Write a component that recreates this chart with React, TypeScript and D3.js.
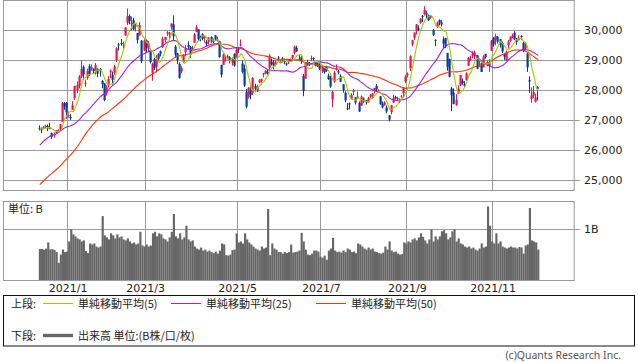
import { useEffect, useRef } from 'react';
import * as d3 from 'd3';

// trading days on the chart, month by month
const tradingDays: [string, number[]][] = [
  ['2020/12', [14, 15, 16, 17, 18, 21, 22, 23, 24, 25, 28, 29, 30]],
  ['2021/1', [4, 5, 6, 7, 8, 12, 13, 14, 15, 18, 19, 20, 21, 22, 25, 26, 27, 28, 29]],
  ['2021/2', [1, 2, 3, 4, 5, 8, 9, 10, 12, 15, 16, 17, 18, 19, 22, 24, 25, 26]],
  ['2021/3', [1, 2, 3, 4, 5, 8, 9, 10, 11, 12, 15, 16, 17, 18, 19, 22, 23, 24, 25, 26, 29, 30, 31]],
  ['2021/4', [1, 2, 5, 6, 7, 8, 9, 12, 13, 14, 15, 16, 19, 20, 21, 22, 23, 26, 27, 28, 30]],
  ['2021/5', [6, 7, 10, 11, 12, 13, 14, 17, 18, 19, 20, 21, 24, 25, 26, 27, 28, 31]],
  ['2021/6', [1, 2, 3, 4, 7, 8, 9, 10, 11, 14, 15, 16, 17, 18, 21, 22, 23, 24, 25, 28, 29, 30]],
  ['2021/7', [1, 2, 5, 6, 7, 8, 9, 12, 13, 14, 15, 16, 19, 20, 21, 26, 27, 28, 29, 30]],
  ['2021/8', [2, 3, 4, 5, 6, 10, 11, 12, 13, 16, 17, 18, 19, 20, 23, 24, 25, 26, 27, 30, 31]],
  ['2021/9', [1, 2, 3, 6, 7, 8, 9, 10, 13, 14, 15, 16, 17, 21, 22, 24, 27, 28, 29, 30]],
  ['2021/10', [1, 4, 5, 6, 7, 8, 11, 12, 13, 14, 15, 18, 19, 20, 21, 22, 25, 26, 27, 28, 29]],
  ['2021/11', [1, 2, 4, 5, 8, 9, 10, 11, 12, 15, 16, 17, 18, 19, 22, 24, 25, 26, 29, 30]],
  ['2021/12', [1, 2, 3]],
];

// closes before the first candle (2020/10/2 - 2020/12/11), only used to warm up the averages
const warmupCloses = [
  23030, 23312, 23434, 23423, 23647, 23620, 23559, 23602, 23627, 23507, 23411, 23671, 23567, 23639,
  23474, 23517, 23494, 23486, 23419, 23332, 22977,
  23295, 23695, 24105, 24325, 24840, 24906, 25350, 25521, 25386, 25907, 26015, 25728, 25634, 25527,
  26166, 26297, 26537, 26645, 26434,
  26788, 26801, 26809, 26751, 26547, 26467, 26818, 26756, 26653,
];

// open, high, low, close
const ohlc: [number, number, number, number][] = [
  // 2020/12
  [26740, 26820, 26650, 26732], [26690, 26750, 26560, 26687], [26730, 26800, 26690, 26757],
  [26790, 26840, 26720, 26806], [26800, 26850, 26630, 26763], [26740, 26910, 26690, 26714],
  [26560, 26580, 26370, 26436], [26500, 26580, 26410, 26524], [26560, 26670, 26540, 26668],
  [26650, 26690, 26620, 26656], [26680, 26860, 26640, 26854], [26940, 27600, 26930, 27568],
  [27560, 27600, 27340, 27444],
  // 2021/1
  [27575, 27602, 27042, 27258], [27151, 27279, 27073, 27158], [27102, 27196, 27002, 27055],
  [27340, 27624, 27340, 27490], [27721, 28139, 27667, 28139], [28004, 28287, 27899, 28164],
  [28140, 28500, 28057, 28456], [28442, 28979, 28402, 28698], [28777, 28820, 28371, 28519],
  [28238, 28349, 28111, 28242], [28405, 28711, 28340, 28633], [28788, 28859, 28473, 28523],
  [28710, 28860, 28650, 28756], [28714, 28717, 28560, 28631], [28633, 28897, 28513, 28822],
  [28711, 28711, 28426, 28546], [28710, 28730, 28446, 28635], [28299, 28337, 28059, 28197],
  [28226, 28226, 27629, 27663],
  // 2021/2
  [27892, 28161, 27812, 28091], [28159, 28462, 28081, 28362], [28608, 28690, 28396, 28646],
  [28508, 28616, 28180, 28341], [28578, 28841, 28498, 28779], [28995, 29420, 28937, 29388],
  [29517, 29568, 29313, 29505], [29566, 29701, 29480, 29562], [29488, 29614, 29380, 29520],
  [29811, 30095, 29809, 30084], [30227, 30714, 30165, 30467], [30469, 30520, 30191, 30292],
  [30201, 30449, 29988, 30236], [30325, 30405, 29989, 30017], [30107, 30200, 29950, 30156],
  [29900, 29900, 29550, 29671], [29820, 30261, 29815, 30168], [29641, 29667, 28898, 28966],
  // 2021/3
  [29321, 29705, 29293, 29663], [29657, 29686, 29231, 29408], [29373, 29627, 29268, 29559],
  [29326, 29364, 28879, 28930], [28564, 28909, 28308, 28864], [29029, 29074, 28665, 28743],
  [28773, 29161, 28598, 29027], [29212, 29223, 28952, 29036], [29293, 29313, 29119, 29211],
  [29435, 29778, 29404, 29717], [29660, 29777, 29582, 29766], [29885, 29963, 29803, 29921],
  [29844, 29946, 29727, 29914], [30091, 30216, 30017, 30216], [30190, 30485, 29652, 29792],
  [29445, 29498, 29083, 29174], [29220, 29236, 28865, 28995], [28871, 28925, 28379, 28405],
  [28621, 28796, 28555, 28729], [28935, 29193, 28896, 29176], [29259, 29491, 29130, 29384],
  [29498, 29623, 29356, 29432], [29433, 29466, 29078, 29178],
  // 2021/4
  [29375, 29477, 29266, 29388], [29573, 29900, 29573, 29854], [29939, 30167, 29939, 30089],
  [30023, 30023, 29640, 29696], [29772, 29809, 29621, 29730], [29859, 29893, 29654, 29708],
  [29761, 29793, 29581, 29768], [29600, 29659, 29454, 29538], [29597, 29755, 29519, 29751],
  [29764, 29786, 29570, 29620], [29641, 29715, 29553, 29642], [29820, 29835, 29673, 29683],
  [29650, 29772, 29615, 29685], [29633, 29641, 29083, 29100], [28833, 28843, 28419, 28508],
  [28837, 29216, 28827, 29188], [28982, 29146, 28948, 29020], [29084, 29180, 29053, 29126],
  [29098, 29128, 28888, 28991], [28909, 29093, 28813, 29053], [29204, 29223, 28775, 28812],
  // 2021/5
  [29150, 29426, 29073, 29331], [29375, 29412, 29227, 29357], [29517, 29685, 29450, 29518],
  [28883, 28987, 28551, 28608], [28711, 28846, 28103, 28147], [27938, 28037, 27385, 27448],
  [27760, 28089, 27719, 28084], [27967, 28129, 27690, 27824], [27893, 28428, 27838, 28406],
  [28129, 28207, 27930, 28044], [27949, 28179, 27938, 28098], [28254, 28364, 28224, 28317],
  [28297, 28380, 28178, 28364], [28518, 28572, 28421, 28553], [28542, 28665, 28522, 28642],
  [28612, 28698, 28511, 28549], [28735, 29194, 28683, 29149], [28949, 29049, 28815, 28860],
  // 2021/6
  [28887, 28997, 28689, 28814], [28850, 28991, 28786, 28946], [29080, 29130, 28939, 29058],
  [28894, 29014, 28891, 28941], [29058, 29092, 28917, 29019], [28965, 29049, 28860, 28963],
  [28884, 28921, 28804, 28860], [28948, 29024, 28866, 28958], [29016, 29048, 28936, 28948],
  [29065, 29166, 29020, 29161], [29237, 29480, 29182, 29441], [29408, 29474, 29271, 29291],
  [29038, 29165, 28955, 29018], [29091, 29138, 28870, 28964], [28468, 28537, 27795, 27964],
  [28379, 28918, 28379, 28884], [28920, 29008, 28802, 28874], [28890, 28934, 28801, 28875],
  [29040, 29147, 28963, 29066], [29071, 29087, 28970, 29048], [28927, 28927, 28787, 28812],
  [28934, 28937, 28769, 28791],
  // 2021/7
  [28826, 28900, 28665, 28707], [28627, 28821, 28568, 28783], [28793, 28793, 28540, 28598],
  [28752, 28810, 28607, 28643], [28478, 28548, 28336, 28366], [28416, 28477, 28073, 28118],
  [27682, 27968, 27419, 27940], [28274, 28629, 28241, 28569], [28709, 28852, 28650, 28718],
  [28620, 28669, 28525, 28608], [28457, 28525, 28267, 28279], [28190, 28190, 27912, 28003],
  [27908, 27959, 27589, 27652], [27391, 27574, 27330, 27388], [27551, 27584, 27353, 27548],
  [27692, 27892, 27687, 27833], [27956, 28041, 27828, 27970], [27756, 27756, 27519, 27581],
  [27757, 27950, 27713, 27782], [27570, 27620, 27272, 27283],
  // 2021/8
  [27477, 27817, 27477, 27781], [27720, 27752, 27571, 27641], [27664, 27664, 27512, 27584],
  [27598, 27771, 27569, 27728], [27790, 27870, 27722, 27820], [27790, 27890, 27721, 27888],
  [27963, 28070, 27885, 28070], [28138, 28197, 27950, 28015], [27960, 28025, 27943, 27977],
  [27793, 27793, 27504, 27523], [27531, 27619, 27386, 27424], [27488, 27623, 27484, 27585],
  [27417, 27486, 27225, 27281], [27155, 27161, 26954, 27013], [27259, 27506, 27191, 27494],
  [27580, 27838, 27573, 27732], [27765, 27808, 27689, 27724], [27719, 27776, 27631, 27742],
  [27628, 27724, 27564, 27641], [27766, 27841, 27752, 27789], [27889, 28099, 27780, 28089],
  // 2021/9
  [28276, 28504, 28228, 28451], [28495, 28588, 28425, 28543], [28729, 29157, 28633, 29128],
  [29520, 29676, 29454, 29660], [29743, 29916, 29669, 29916], [29955, 30201, 29850, 30181],
  [30050, 30154, 29959, 30008], [30242, 30398, 30209, 30381], [30473, 30499, 30268, 30447],
  [30524, 30795, 30482, 30670], [30558, 30643, 30396, 30511], [30479, 30519, 30300, 30323],
  [30413, 30500, 30370, 30500], [29983, 30034, 29797, 29839], [29674, 29689, 29458, 29639],
  [30099, 30278, 30065, 30248], [30336, 30352, 30153, 30240], [30252, 30324, 30115, 30183],
  [29686, 29786, 29402, 29544], [29733, 29740, 29396, 29452],
  // 2021/10
  [29235, 29235, 28646, 28771], [29029, 29045, 28425, 28444], [28052, 28105, 27293, 27822],
  [27917, 28055, 27528, 27528], [27496, 27860, 27474, 27678], [27876, 28160, 27867, 28048],
  [28150, 28498, 28136, 28498], [28307, 28382, 28174, 28230], [28190, 28297, 28101, 28140],
  [28330, 28589, 28310, 28550], [28806, 29096, 28804, 29068], [29014, 29144, 28976, 29025],
  [29145, 29292, 29060, 29215], [29116, 29310, 29023, 29255], [29154, 29169, 28697, 28708],
  [28789, 29004, 28781, 28804], [28889, 28941, 28600, 28600], [28753, 29160, 28753, 29106],
  [29205, 29205, 29045, 29098], [28925, 28961, 28794, 28820], [28805, 29023, 28603, 28892],
  // 2021/11
  [29299, 29666, 29299, 29647], [29740, 29762, 29446, 29520], [29680, 29880, 29488, 29794],
  [29775, 29796, 29550, 29611], [29690, 29706, 29415, 29507], [29564, 29616, 29236, 29285],
  [29212, 29229, 29006, 29106], [28965, 29311, 28962, 29277], [29492, 29673, 29389, 29610],
  [29638, 29790, 29603, 29776], [29751, 29877, 29718, 29808], [29909, 29960, 29663, 29688],
  [29661, 29733, 29508, 29598], [29664, 29826, 29648, 29745], [29798, 29825, 29676, 29774],
  [29571, 29611, 29258, 29303], [29382, 29588, 29330, 29499], [29222, 29224, 28605, 28751],
  [28330, 28456, 27899, 28283], [27700, 28089, 27577, 27821],
  // 2021/12
  [27813, 28135, 27730, 27935], [27600, 27874, 27585, 27753], [28100, 28130, 27650, 28029],
];

// volume, billions of shares
const volumeB = [
  // 2020/12
  0.61, 0.61, 0.60, 0.62, 0.74, 0.60, 0.61, 0.59, 0.55, 0.34, 0.50, 0.60, 0.55,
  // 2021/1
  0.56, 0.76, 1.00, 0.90, 0.86, 0.82, 0.80, 0.76, 0.78, 0.57, 0.53, 0.72, 0.70, 0.72, 0.66, 0.64,
  0.66, 1.26, 0.88,
  // 2021/2
  0.84, 0.80, 0.92, 0.88, 0.82, 0.90, 0.84, 0.86, 0.80, 0.78, 0.82, 0.76, 0.72, 0.74, 0.70, 0.72,
  0.95, 0.68,
  // 2021/3
  0.66, 0.70, 0.66, 0.68, 0.92, 0.95, 0.86, 0.92, 0.90, 0.82, 0.80, 0.76, 0.84, 0.95, 1.30, 0.86,
  0.82, 0.92, 0.80, 0.84, 1.07, 0.80, 0.76,
  // 2021/4
  0.78, 0.66, 0.62, 0.60, 0.64, 0.58, 0.60, 0.56, 0.58, 0.55, 0.53, 0.56, 0.52, 0.58, 0.72, 0.70,
  0.49, 0.48, 0.50, 0.59, 0.60,
  // 2021/5
  0.92, 0.74, 0.76, 0.72, 0.92, 0.80, 0.74, 0.70, 0.66, 0.62, 0.60, 0.58, 0.66, 0.62, 0.64, 1.40,
  0.49, 0.72,
  // 2021/6
  0.62, 0.60, 0.55, 0.55, 0.52, 0.55, 0.53, 0.55, 0.70, 0.54, 0.55, 0.56, 0.58, 0.93, 0.76, 0.60,
  0.50, 0.49, 0.52, 0.58, 0.58, 0.56,
  // 2021/7
  0.46, 0.44, 0.48, 0.40, 0.58, 0.62, 0.83, 0.58, 0.55, 0.56, 0.54, 0.58, 0.55, 0.62, 0.60, 0.55,
  0.56, 0.53, 0.72, 0.70,
  // 2021/8
  0.66, 0.62, 0.60, 0.64, 0.60, 0.62, 0.56, 0.55, 0.53, 0.52, 0.54, 0.66, 0.60, 0.76, 0.58, 0.55,
  0.56, 0.52, 0.50, 0.51, 0.74,
  // 2021/9
  0.72, 0.76, 0.74, 0.80, 0.82, 0.78, 0.84, 0.92, 0.85, 0.78, 0.72, 0.80, 1.00, 0.76, 0.86, 0.80,
  0.86, 0.96, 0.98, 0.92,
  // 2021/10
  0.80, 0.84, 0.96, 1.00, 0.76, 0.82, 0.72, 0.70, 0.66, 0.64, 0.66, 0.62, 0.64, 0.60, 0.58, 0.62,
  0.72, 0.64, 0.66, 1.45, 1.07,
  // 2021/11
  0.76, 0.72, 0.92, 0.72, 0.76, 0.66, 0.64, 0.62, 0.64, 0.66, 0.64, 0.64, 0.62, 0.65, 0.64, 0.52,
  0.68, 0.70, 1.42, 0.78,
  // 2021/12
  0.76, 0.74, 0.60,
];

const priceTicks = [25000, 26000, 27000, 28000, 29000, 30000];
const volumeTicks = [1];
const monthLabels = ['2021/1', '2021/3', '2021/5', '2021/7', '2021/9', '2021/11'];
const maPeriods = [5, 25, 50];
const maColors = ['#99cc00', '#9922ee', '#ff3300'];
const maNames = ['単純移動平均(5)', '単純移動平均(25)', '単純移動平均(50)'];

const UP = '#f0124a';
const DOWN = '#0a3a9c';
const GRID = '#9a9a9a';
const NUM_FONT = '"DejaVu Sans", sans-serif';
const JP_FONT = '"Noto Sans CJK JP", sans-serif';

export default function App() {
  const ref = useRef<SVGSVGElement>(null);

  useEffect(() => {
    if (!ref.current) return;
    const svg = d3.select(ref.current);
    svg.selectAll('*').remove();

    const dates = tradingDays.flatMap(([m, days]) => days.map((d) => `${m}/${d}`));
    const n = ohlc.length;

    const left = 3, right = 574.7;
    const x = d3.scaleLinear().domain([-17.6, n + 16.4]).range([left, right]);
    const y = d3.scaleLinear().domain([24666.7, 31000]).range([190, 0]);
    const yv = d3.scaleLinear().domain([0, 1.557]).range([280, 201]);
    const step = x(1) - x(0);

    svg.append('rect').attr('width', 638).attr('height', 362).attr('fill', '#fff');

    const monthIdx = monthLabels.map((l) => dates.findIndex((d) => d.startsWith(l + '/')));

    // grids
    const grid = svg.append('g').attr('stroke', GRID).attr('stroke-width', 1).attr('fill', 'none');
    monthIdx.forEach((i) => {
      const gx = Math.round(x(i)) + 0.5;
      grid.append('line').attr('x1', gx).attr('x2', gx).attr('y1', 0).attr('y2', 190);
      grid.append('line').attr('x1', gx).attr('x2', gx).attr('y1', 201).attr('y2', 280);
    });
    priceTicks.forEach((v) => {
      const gy = Math.round(y(v)) + 0.5;
      grid.append('line').attr('x1', left).attr('x2', right + 5).attr('y1', gy).attr('y2', gy);
    });
    volumeTicks.forEach((v) => {
      const gy = Math.round(yv(v)) + 0.5;
      grid.append('line').attr('x1', left).attr('x2', right + 5).attr('y1', gy).attr('y2', gy);
    });
    grid.append('rect').attr('x', left + 0.5).attr('y', 0.5).attr('width', right - left - 1).attr('height', 190);
    grid.append('rect').attr('x', left + 0.5).attr('y', 201.5).attr('width', right - left - 1).attr('height', 79);

    // volume
    svg.append('g')
      .selectAll('rect')
      .data(volumeB)
      .join('rect')
      .attr('x', (_, i) => x(i) - step / 2)
      .attr('width', step + 0.05)
      .attr('y', (d) => yv(d))
      .attr('height', (d) => 280 - yv(d))
      .attr('fill', '#666');

    // candles
    const cg = svg.append('g');
    ohlc.forEach(([o, h, l, c], i) => {
      const color = c >= o ? UP : DOWN;
      const bx = Math.round(x(i) - 1);
      cg.append('rect').attr('x', bx).attr('width', 1)
        .attr('y', y(h)).attr('height', Math.max(1, y(l) - y(h))).attr('fill', color);
      const top = y(Math.max(o, c));
      cg.append('rect').attr('x', bx - 0.5).attr('width', 2.2)
        .attr('y', top).attr('height', Math.max(1, y(Math.min(o, c)) - top)).attr('fill', color);
    });

    // moving averages
    const closes = [...warmupCloses, ...ohlc.map((d) => d[3])];
    const off = warmupCloses.length;
    const line = d3.line<number>().x((_, i) => x(i)).y((v) => y(v));
    [2, 1, 0].forEach((k) => {
      const p = maPeriods[k];
      const ma = ohlc.map((_, i) => d3.mean(closes.slice(off + i - p + 1, off + i + 1)) as number);
      svg.append('path').datum(ma).attr('d', line).attr('fill', 'none')
        .attr('stroke', maColors[k]).attr('stroke-width', 1.1);
    });

    // axis labels
    const txt = svg.append('g').attr('font-family', NUM_FONT).attr('font-size', 11).attr('fill', '#222');
    priceTicks.forEach((v) => {
      txt.append('text').attr('x', 584).attr('y', y(v) + 4).text(d3.format(',')(v));
    });
    volumeTicks.forEach((v) => {
      txt.append('text').attr('x', 584).attr('y', yv(v) + 4).text(`${v}B`);
    });
    monthLabels.forEach((l, k) => {
      txt.append('text').attr('x', x(monthIdx[k]) + 1).attr('y', 292).attr('text-anchor', 'middle').text(l);
    });
    svg.append('text').attr('x', 8).attr('y', 213).attr('font-family', JP_FONT)
      .attr('font-size', 11).attr('fill', '#222').text('単位: B');

    // legend
    const lg = svg.append('g').attr('font-family', JP_FONT).attr('font-size', 11).attr('fill', '#222');
    lg.append('rect').attr('x', 3.5).attr('y', 295.5).attr('width', 631).attr('height', 50.5)
      .attr('fill', 'none').attr('stroke', '#111');
    lg.append('text').attr('x', 11).attr('y', 307.5).text('上段:');
    const itemX = [43, 171, 316];
    maNames.forEach((name, k) => {
      lg.append('line').attr('x1', itemX[k]).attr('x2', itemX[k] + 30).attr('y1', 303.5).attr('y2', 303.5)
        .attr('stroke', maColors[k]).attr('stroke-width', 1);
      lg.append('text').attr('x', itemX[k] + 35).attr('y', 307.5).text(name);
    });
    lg.append('text').attr('x', 11).attr('y', 339.5).text('下段:');
    lg.append('line').attr('x1', 43).attr('x2', 73).attr('y1', 335.5).attr('y2', 335.5)
      .attr('stroke', '#666').attr('stroke-width', 3.3);
    lg.append('text').attr('x', 78).attr('y', 339.5).text('出来高 単位:(B株/口/枚)');

    svg.append('text').attr('x', 621).attr('y', 359).attr('text-anchor', 'end')
      .attr('font-family', '"Noto Sans", sans-serif').attr('font-size', 10.5).attr('fill', '#555')
      .text('(c)Quants Research Inc.');
  }, []);

  return (
    <svg
      ref={ref}
      width={638}
      height={362}
      style={{ position: 'absolute', left: 0, top: 0, display: 'block' }}
    />
  );
}
